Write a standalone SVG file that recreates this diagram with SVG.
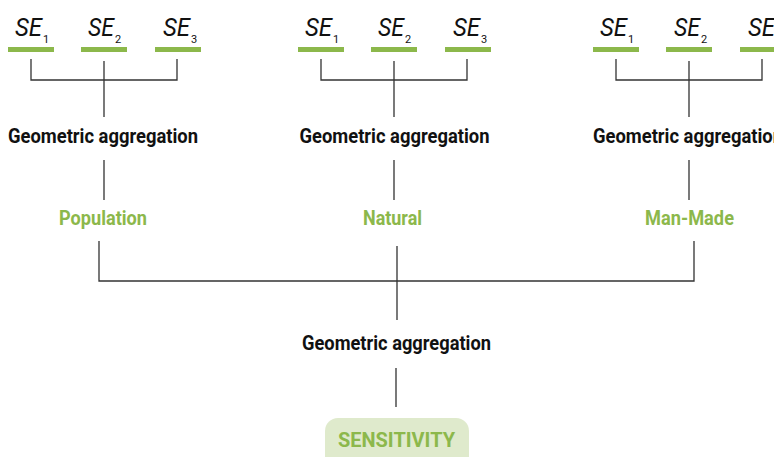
<svg xmlns="http://www.w3.org/2000/svg" width="774" height="457" viewBox="0 0 774 457">
<style>
.bar{fill:#8cb84b}
.se{font-family:Roboto,"Liberation Sans",sans-serif;font-style:italic;font-size:25px;fill:#111}
.sub{font-family:Roboto,"Liberation Sans",sans-serif;font-size:11px;fill:#111}
.agg{font-family:Roboto,"Liberation Sans",sans-serif;font-weight:bold;font-size:20px;fill:#111;text-anchor:middle}
.cat{font-family:Roboto,"Liberation Sans",sans-serif;font-weight:bold;font-size:21px;fill:#8cb84b;text-anchor:middle}
.ln{stroke:#333;stroke-width:1.3;fill:none}
</style>
<rect width="774" height="457" fill="#fff"/>
<g id="connectors">
<path class="ln" d="M31 59V80H177V59M104 61V117M104 160V200"/>
<path class="ln" d="M321 59V80H467V59M394 61V117M394 160V200"/>
<path class="ln" d="M616 59V80H762V59M689 61V117M689 160V200"/>
<path class="ln" d="M99 241V281H694V241M397 246V320M396 368V407"/>
</g>
<g id="p1-se1"><rect class="bar" x="8" y="47" width="46" height="5"/><text class="se" x="15" y="36" textLength="27" lengthAdjust="spacingAndGlyphs">SE</text><text class="sub" x="43" y="43">1</text></g>
<g id="p1-se2"><rect class="bar" x="81" y="47" width="46" height="5"/><text class="se" x="88" y="36" textLength="26" lengthAdjust="spacingAndGlyphs">SE</text><text class="sub" x="115" y="43">2</text></g>
<g id="p1-se3"><rect class="bar" x="155" y="47" width="46" height="5"/><text class="se" x="163" y="36" textLength="27" lengthAdjust="spacingAndGlyphs">SE</text><text class="sub" x="191" y="43">3</text></g>
<g id="p2-se1"><rect class="bar" x="298" y="47" width="46" height="5"/><text class="se" x="305" y="36" textLength="27" lengthAdjust="spacingAndGlyphs">SE</text><text class="sub" x="333" y="43">1</text></g>
<g id="p2-se2"><rect class="bar" x="371" y="47" width="46" height="5"/><text class="se" x="378" y="36" textLength="26" lengthAdjust="spacingAndGlyphs">SE</text><text class="sub" x="405" y="43">2</text></g>
<g id="p2-se3"><rect class="bar" x="445" y="47" width="46" height="5"/><text class="se" x="453" y="36" textLength="27" lengthAdjust="spacingAndGlyphs">SE</text><text class="sub" x="481" y="43">3</text></g>
<g id="p3-se1"><rect class="bar" x="593" y="47" width="46" height="5"/><text class="se" x="600" y="36" textLength="27" lengthAdjust="spacingAndGlyphs">SE</text><text class="sub" x="628" y="43">1</text></g>
<g id="p3-se2"><rect class="bar" x="666" y="47" width="46" height="5"/><text class="se" x="674" y="36" textLength="26" lengthAdjust="spacingAndGlyphs">SE</text><text class="sub" x="701" y="43">2</text></g>
<g id="p3-se3"><rect class="bar" x="740" y="47" width="46" height="5"/><text class="se" x="748" y="36" textLength="27" lengthAdjust="spacingAndGlyphs">SE</text><text class="sub" x="776" y="43">3</text></g>
<g id="agg1"><text class="agg" x="103" y="143" textLength="190" lengthAdjust="spacingAndGlyphs">Geometric aggregation</text></g>
<g id="agg2"><text class="agg" x="394.5" y="143" textLength="190" lengthAdjust="spacingAndGlyphs">Geometric aggregation</text></g>
<g id="agg3"><text class="agg" x="688" y="143" textLength="190" lengthAdjust="spacingAndGlyphs">Geometric aggregation</text></g>
<g id="population"><text class="cat" x="103" y="225" textLength="88" lengthAdjust="spacingAndGlyphs">Population</text></g>
<g id="natural"><text class="cat" x="392.5" y="225" textLength="59" lengthAdjust="spacingAndGlyphs">Natural</text></g>
<g id="manmade"><text class="cat" x="689.5" y="225" textLength="89" lengthAdjust="spacingAndGlyphs">Man-Made</text></g>
<g id="agg-final"><text class="agg" x="396.5" y="350" textLength="189" lengthAdjust="spacingAndGlyphs">Geometric aggregation</text></g>
<g id="sensitivity"><rect x="325" y="418" width="144" height="52" rx="13" fill="#dfeacc"/><text class="cat" x="396.5" y="447" font-size="20" textLength="117" lengthAdjust="spacingAndGlyphs">SENSITIVITY</text></g>
</svg>
